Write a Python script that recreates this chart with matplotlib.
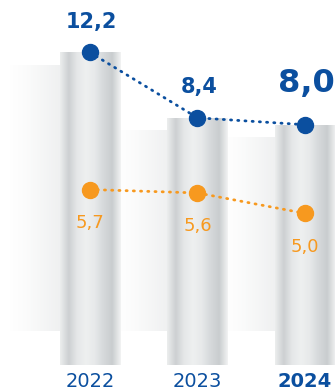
import numpy as np
import matplotlib.pyplot as plt
from matplotlib.colors import LinearSegmentedColormap

years = ["2022", "2023", "2024"]
blue_values = [12.2, 8.4, 8.0]
orange_values = [5.7, 5.6, 5.0]
blue_labels = ["12,2", "8,4", "8,0"]
orange_labels = ["5,7", "5,6", "5,0"]

BLUE = "#0b4f9f"
ORANGE = "#f7991f"

plt.rcParams["font.family"] = ["DejaVu Sans"]

fig = plt.figure(figsize=(3.35, 3.92), dpi=100)
ax = fig.add_axes([0, 0, 1, 1])
ax2 = ax.twinx()

x = np.arange(len(years))
base = -5.97
bar_w = 0.56
ghost_w = 0.46

bar_cmap = LinearSegmentedColormap.from_list(
    "bar",
    ["#eceeee", "#cdd0d2", "#e6e8e9", "#eef0f0", "#e7e9ea", "#d6d9db", "#c9cdcf", "#f2f3f3"],
)
ghost_cmap = LinearSegmentedColormap.from_list(
    "ghost",
    ["#ffffff", "#fafafa", "#f3f4f4", "#ebeced", "#e3e5e6"],
)
grad = np.linspace(0, 1, 256).reshape(1, -1)

for xi, top in zip(x, blue_values):
    # faded shape behind each bar
    g_left = xi - bar_w / 2 - ghost_w
    g_top = top - 0.7
    ghost = ax.bar(
        g_left + ghost_w / 2,
        g_top - base - 2.0,
        bottom=base + 2.0,
        width=ghost_w,
        color="none",
        edgecolor="none",
        zorder=0,
    )[0]
    im = ax.imshow(
        grad,
        cmap=ghost_cmap,
        extent=(g_left, g_left + ghost_w, base + 2.0, g_top),
        aspect="auto",
        zorder=0,
        alpha=0.55,
    )
    im.set_clip_path(ghost)

    # main bar with a soft grey gradient
    bar = ax.bar(
        xi,
        top - base,
        bottom=base,
        width=bar_w,
        color="none",
        edgecolor="none",
        zorder=1,
    )[0]
    im = ax.imshow(
        grad,
        cmap=bar_cmap,
        extent=(xi - bar_w / 2, xi + bar_w / 2, base, top),
        aspect="auto",
        zorder=1,
    )
    im.set_clip_path(bar)

ax.plot(
    x,
    blue_values,
    color=BLUE,
    linestyle=(0, (0.4, 2.2)),
    linewidth=2.0,
    dash_capstyle="round",
    marker="o",
    markersize=11.5,
    zorder=3,
)

ax2.plot(
    x,
    orange_values,
    color=ORANGE,
    linestyle=(0, (0.4, 2.2)),
    linewidth=2.0,
    dash_capstyle="round",
    marker="o",
    markersize=11.5,
    zorder=3,
)

blue_sizes = [15, 15, 23]
blue_offsets = [22, 22, 30]
for xi, v, lab, fs, off in zip(x, blue_values, blue_labels, blue_sizes, blue_offsets):
    ax.annotate(
        lab,
        (xi, v),
        xytext=(1, off),
        textcoords="offset points",
        ha="center",
        va="center",
        fontsize=fs,
        fontweight="bold",
        color=BLUE,
    )

for xi, v, lab in zip(x, orange_values, orange_labels):
    ax2.annotate(
        lab,
        (xi, v),
        xytext=(0, -24),
        textcoords="offset points",
        ha="center",
        va="center",
        fontsize=13,
        color=ORANGE,
    )

for i, (xi, year) in enumerate(zip(x, years)):
    ax.text(
        xi,
        0.028,
        year,
        transform=ax.get_xaxis_transform(),
        ha="center",
        va="center",
        fontsize=14,
        fontweight="bold" if i == len(years) - 1 else "normal",
        color=BLUE,
    )

ax.set_xlim(-0.837, 2.279)
ax.set_ylim(-7.54, 15.25)
ax2.set_ylim(-0.24, 11.26)

ax.axis("off")
ax2.axis("off")

fig.savefig("out.png", dpi=100)
